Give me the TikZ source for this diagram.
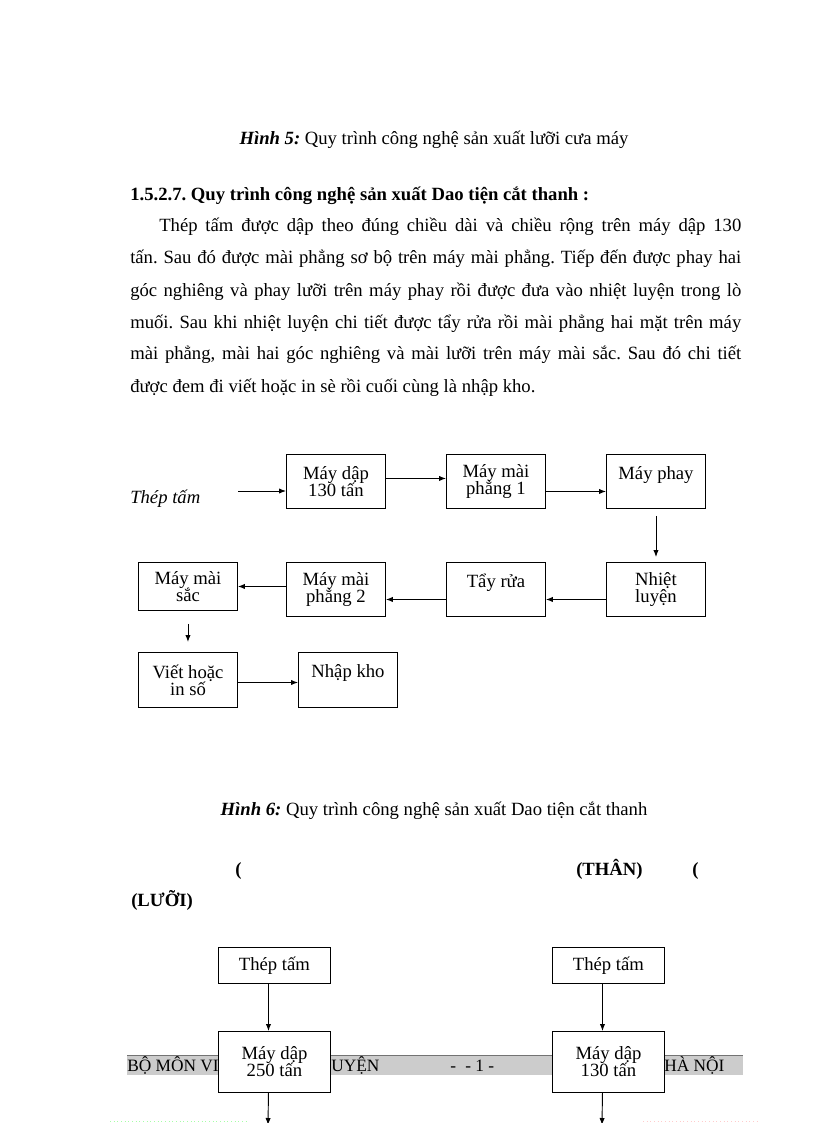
\documentclass[tikz,border=0pt]{standalone}
\usepackage{fontspec}
\setmainfont{Liberation Serif}
\usetikzlibrary{arrows.meta}
\lineskiplimit=-20pt
\frenchspacing

\begin{document}
\begin{tikzpicture}[x=0.75pt, y=-0.75pt,
    >={Latex[length=5.25pt, width=4pt]},
    txt/.style={inner sep=0pt, anchor=base west, font=\fontsize{14pt}{17pt}\selectfont},
    foot/.style={inner sep=0pt, anchor=base west, font=\fontsize{13pt}{15pt}\selectfont},
    box/.style={draw, fill=white, line width=0.7pt, inner sep=0pt, align=center, anchor=north west,
      minimum width=74.25pt, minimum height=40.5pt, font=\fontsize{14pt}{12.75pt}\selectfont},
    flow/.style={->, line width=0.7pt},
  ]
  \useasboundingbox[fill=white] (0,0) rectangle (816,1123);

  \node[txt, anchor=base] (cap5) at (434,145) {\textbf{\textit{Hình 5:}} Quy trình công nghệ sản xuất lưỡi cưa máy};
  \node[txt, font=\fontsize{14pt}{17pt}\selectfont\bfseries] (head) at (130,201) {1.5.2.7. Quy trình công nghệ sản xuất Dao tiện cắt thanh :};
  \node[txt, text width=458.25pt, align=justify, font=\fontsize{14pt}{24pt}\selectfont] (para) at (130,232) {\hspace*{21.75pt}Thép tấm được dập theo đúng chiều dài và chiều rộng trên máy dập 130\linebreak
    tấn. Sau đó được mài phẳng sơ bộ trên máy mài phẳng. Tiếp đến được phay hai\linebreak
    góc nghiêng và phay lưỡi trên máy phay rồi được đưa vào nhiệt luyện trong lò\linebreak
    muối. Sau khi nhiệt luyện chi tiết được tẩy rửa rồi mài phẳng hai mặt trên máy\linebreak
    mài phẳng, mài hai góc nghiêng và mài lưỡi trên máy mài sắc. Sau đó chi tiết\linebreak
    được đem đi viết hoặc in sè rồi cuối cùng là nhập kho.};

  \node[txt, font=\fontsize{14pt}{17pt}\selectfont\itshape] (thep) at (130,503) {Thép tấm};
  \node[box] (dap) at (286,454) {Máy dập\\130 tấn};
  \node[box] (maiA) at (446,454) {Máy mài\\phẳng 1};
  \node[box] (phay) at (606,454) {Máy phay\\\mbox{}};
  \node[box, minimum height=36pt] (sac) at (138,562) {Máy mài\\sắc};
  \node[box] (maiB) at (286,562) {Máy mài\\phẳng 2};
  \node[box] (tay) at (446,562) {Tẩy rửa\\\mbox{}};
  \node[box] (nhiet) at (606,562) {Nhiệt\\luyện};
  \node[box, minimum height=41.25pt] (viet) at (138,652) {Viết hoặc\\in số};
  \node[box, minimum height=41.25pt] (nhap) at (298,652) {Nhập kho\\\mbox{}};
  \coordinate (vao) at (238,491);

  \draw[flow] (vao) -- (vao -| dap.west);
  \draw[flow] ([yshift=2.25pt]dap.east) -- ([yshift=2.25pt]maiA.west);
  \draw[flow] ([yshift=-7.5pt]maiA.east) -- ([yshift=-7.5pt]phay.west);
  \draw[flow, shorten <=5.25pt, shorten >=3.75pt] (phay.south) -- (nhiet.north);
  \draw[flow] ([yshift=-7.5pt]nhiet.west) -- ([yshift=-7.5pt]tay.east);
  \draw[flow] ([yshift=-7.5pt]tay.west) -- ([yshift=-7.5pt]maiB.east);
  \draw[flow] (maiB.west |- sac.east) -- (sac.east);
  \draw[flow, shorten <=9.75pt, shorten >=7.5pt] (sac.south) -- (viet.north);
  \draw[flow] ([yshift=-1.9pt]viet.east) -- ([yshift=-1.9pt]nhap.west);

  \node[txt, anchor=base] (cap6) at (434,815) {\textbf{\textit{Hình 6:}} Quy trình công nghệ sản xuất Dao tiện cắt thanh};
  \node[txt, font=\fontsize{14pt}{17pt}\selectfont\bfseries] (moA) at (235,875) {(};
  \node[txt, font=\fontsize{14pt}{17pt}\selectfont\bfseries] (than) at (576,875) {(THÂN)};
  \node[txt, font=\fontsize{14pt}{17pt}\selectfont\bfseries] (moB) at (692,875) {(};
  \node[txt, font=\fontsize{14pt}{17pt}\selectfont\bfseries] (luoi) at (131,906) {(LƯỠI)};

  \fill[black!20] (127,1055) rectangle (743,1075);
  \draw[black!55, line width=0.75pt] (127,1055) -- (743,1055);
  \node[foot] (bomon) at (127,1071) {BỘ MÔN VI};
  \node[foot] (uyen) at (331,1071) {UYỆN};
  \node[foot] (trang) at (450,1071) {-\hspace{7pt}- 1 -};
  \node[foot] (hanoi) at (664,1071) {HÀ NỘI};
  \draw[green!35, dotted, line width=0.75pt] (110,1121) -- (247,1121);
  \draw[red!20, dotted, line width=0.75pt] (643,1121) -- (760,1121);

  \node[box, minimum width=84pt, minimum height=27pt] (thepL) at (218,947) {Thép tấm};
  \node[box, minimum width=84pt, minimum height=27pt] (thepR) at (552,947) {Thép tấm};
  \node[box, minimum width=84pt, minimum height=45.75pt] (dapL) at (218,1031) {Máy dập\\250 tấn};
  \node[box, minimum width=84pt, minimum height=45.75pt] (dapR) at (552,1031) {Máy dập\\130 tấn};
  \coordinate (raL) at (268,1125);
  \coordinate (raR) at (602,1125);

  \draw[flow] ([xshift=-4.5pt]thepL.south) -- ([xshift=-4.5pt]dapL.north);
  \draw[flow] ([xshift=-4.5pt]thepR.south) -- ([xshift=-4.5pt]dapR.north);
  \draw[flow] ([xshift=-4.5pt]dapL.south) -- (raL);
  \draw[flow] ([xshift=-4.5pt]dapR.south) -- (raR);
\end{tikzpicture}
\end{document}
